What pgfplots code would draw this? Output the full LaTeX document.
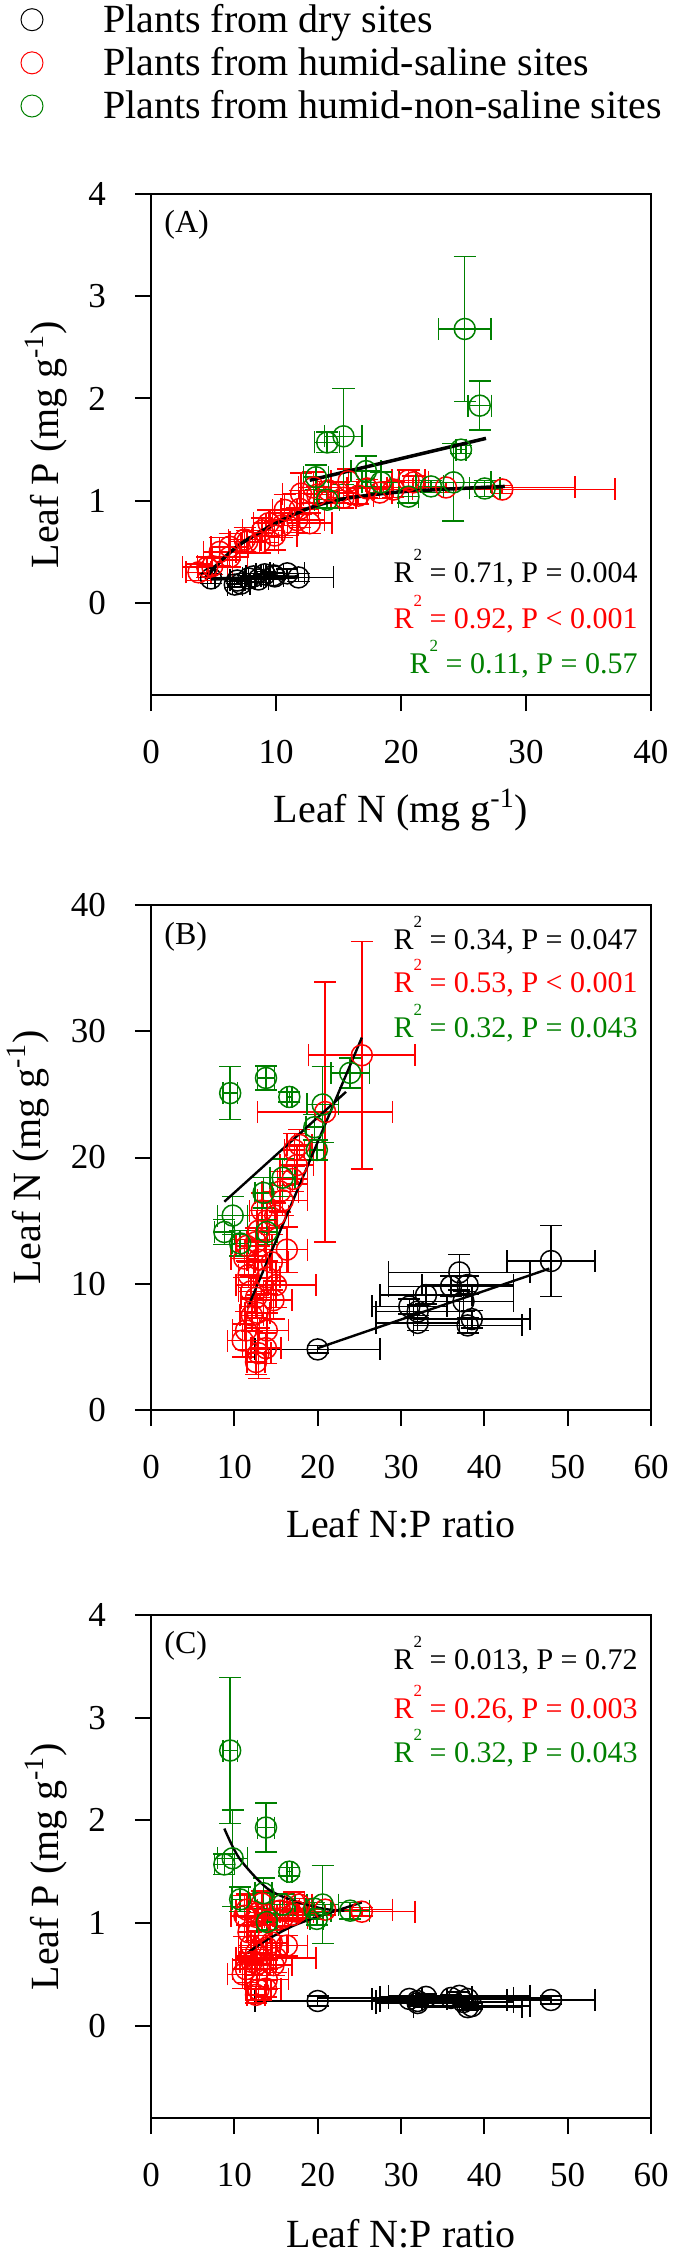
\documentclass[border=0pt]{standalone}
\usepackage{fontspec}
\setmainfont{Liberation Serif}
\usepackage{pgfplots}
\pgfplotsset{compat=1.18}
\usepackage{pgfplotstable}
\definecolor{sred}{RGB}{255,0,0}
\definecolor{sgreen}{RGB}{0,128,0}

% dry sites
\pgfplotstableread{
N P NP eN eP eNP
4.8 0.24 20.0 0.3 0.05 7.5
8.2 0.26 31.0 0.6 0.03 4.5
7.8 0.24 32.0 0.5 0.03 5.0
6.9 0.22 32.0 0.6 0.03 5.0
9.1 0.28 33.0 0.7 0.03 5.5
9.8 0.27 36.0 0.8 0.03 7.5
10.9 0.29 37.0 1.4 0.04 8.5
8.6 0.23 37.5 0.8 0.03 6.0
9.9 0.26 38.0 0.7 0.03 5.5
7.2 0.19 38.5 0.7 0.03 7.0
6.7 0.18 38.0 0.6 0.03 6.5
11.8 0.25 48.0 2.8 0.04 5.3
}\dry

% humid-saline sites
\pgfplotstableread{
N P NP eN eP eNP
28.1 1.11 25.3 9.0 0.04 6.4
23.6 1.13 20.9 10.3 0.05 8.1
21.0 1.18 17.8 1.2 0.06 1.5
19.4 1.11 17.5 1.5 0.08 2.0
18.3 1.08 17.0 1.0 0.06 1.8
20.6 1.20 17.2 1.3 0.10 1.2
17.3 1.12 15.5 1.6 0.09 2.2
16.6 1.05 15.8 1.2 0.08 3.0
15.4 1.03 14.9 1.0 0.10 1.6
15.8 1.19 13.3 1.4 0.12 1.5
15.0 1.08 13.9 1.5 0.10 1.2
14.2 1.10 12.9 1.2 0.09 1.3
13.3 1.06 12.6 1.1 0.08 1.0
12.7 0.78 16.3 1.8 0.10 2.5
11.9 0.92 12.9 1.5 0.18 1.4
11.7 0.81 14.5 2.2 0.12 2.0
10.7 0.91 11.7 1.0 0.15 1.2
10.5 0.76 13.9 1.3 0.12 1.6
9.9 0.66 15.0 1.8 0.14 4.8
9.4 0.78 12.0 1.2 0.13 1.5
8.9 0.71 12.6 1.6 0.12 1.8
8.7 0.59 14.7 1.5 0.10 2.2
7.7 0.60 12.8 1.4 0.11 1.5
7.5 0.62 12.1 1.3 0.12 1.4
6.3 0.55 11.4 1.5 0.13 1.6
6.3 0.45 13.9 1.4 0.10 2.6
4.9 0.36 13.8 1.2 0.08 1.8
4.5 0.35 12.9 2.0 0.10 1.5
3.8 0.30 12.6 1.0 0.08 1.1
13.0 1.13 11.5 1.2 0.15 1.3
5.5 0.50 11.0 1.3 0.14 1.8
12.0 1.07 11.2 1.5 0.20 1.6
}\saline

% humid-non-saline sites
\pgfplotstableread{
N P NP eN eP eNP
25.1 2.68 9.5 2.1 0.71 0.85
26.3 1.93 13.8 0.95 0.24 1.0
24.8 1.50 16.6 0.4 0.04 0.3
24.2 1.18 20.6 3.0 0.38 1.9
26.7 1.12 23.9 1.2 0.08 2.3
22.4 1.14 19.6 1.0 0.06 1.0
20.6 1.04 19.9 0.8 0.06 0.8
18.4 1.18 15.8 1.5 0.10 1.5
17.2 1.29 13.5 1.2 0.15 1.0
15.4 1.63 9.8 1.5 0.47 1.8
14.1 1.57 8.8 1.0 0.10 1.2
13.2 1.23 10.7 1.0 0.12 1.0
14.1 1.01 13.9 1.0 0.08 1.2
}\nonsaline

\newcommand{\rsq}{R\raisebox{11bp}{\fontsize{8.5bp}{9bp}\selectfont 2}}

\tikzset{
  rtext/.style={anchor=base east, inner sep=0pt, font=\fontsize{15bp}{18bp}\selectfont},
  plabel/.style={anchor=west, inner sep=0pt, font=\fontsize{16bp}{18bp}\selectfont},
}
\pgfplotsset{
  panel/.style={
    scale only axis, width=250bp,
    axis line style={line width=1bp},
    tick pos=left, tick align=outside, major tick length=8bp,
    every tick/.style={black, line width=1bp},
    tick label style={font=\fontsize{17.5bp}{20bp}\selectfont},
    xticklabel style={yshift=-11bp},
    yticklabel style={xshift=-11bp},
    /pgf/number format/assume math mode=true,
    label style={font=\fontsize{20bp}{24bp}\selectfont},
  },
  dots/.style={only marks, mark=o, mark size=5.25bp,
    mark options={line width=0.75bp, solid},
    /pgfplots/error bars/x dir=both, /pgfplots/error bars/x explicit,
    /pgfplots/error bars/y dir=both, /pgfplots/error bars/y explicit,
    /pgfplots/error bars/error bar style={line width=0.75bp},
    /pgfplots/error bars/error mark=-,
    /pgfplots/error bars/error mark options={rotate=90, mark size=5.5bp, line width=0.75bp}},
  fitA/.style={black, line width=1.75bp, no marks},
  fitB/.style={black, line width=1.2bp, no marks},
}

\begin{document}
\begin{tikzpicture}
% ---------------- (A)
\begin{axis}[panel, name=A, at={(75.5bp,-97bp)}, anchor=north west, height=250.5bp,
  xmin=0, xmax=40, ymin=-0.9, ymax=4,
  xtick={0,10,20,30,40}, ytick={0,1,2,3,4},
  xlabel={Leaf N (mg g\textsuperscript{-1})},
  ylabel={Leaf P (mg g\textsuperscript{-1})},
  xlabel style={at={(axis description cs:0.5,-0.2295)}, anchor=center},
  ylabel style={at={(axis description cs:-0.21,0.5)}, anchor=center},
  legend cell align=left,
  legend image code/.code={\draw[#1] plot coordinates {(0bp,0bp)};},
  legend style={at={(axis description cs:-0.26,1.379)}, anchor=north west,
    draw=none, fill=none, inner sep=0pt, outer sep=0pt,
    font=\fontsize{20bp}{24bp}\selectfont, row sep=6bp,
    nodes={inner sep=0pt},
    /tikz/every odd column/.append style={column sep=30bp}},
]
\addlegendimage{only marks, mark=o, black, mark size=5.5bp, mark options={line width=0.5bp}}
\addlegendimage{only marks, mark=o, sred, mark size=5.5bp, mark options={line width=0.5bp}}
\addlegendimage{only marks, mark=o, sgreen, mark size=5.5bp, mark options={line width=0.5bp}}
\legend{Plants from dry sites, Plants from humid-saline sites, Plants from humid-non-saline sites}
\addplot[black, dots] table[x=N, y=P, x error=eN, y error=eP]{\dry};
\addplot[sred, dots] table[x=N, y=P, x error=eN, y error=eP]{\saline};
\addplot[sgreen, dots] table[x=N, y=P, x error=eN, y error=eP]{\nonsaline};
\addplot[fitA] coordinates {(4.8,0.235) (11.8,0.255)};
\addplot[fitA, smooth] coordinates {(4.3,0.24) (5.5,0.40) (7.2,0.58) (10,0.78) (12.7,0.93) (15.5,1.02) (20.3,1.09) (28.3,1.14)};
\addplot[fitA] coordinates {(12.7,1.2) (26.8,1.61)};
\node[plabel] at (rel axis cs:0.026,0.938) {(A)};
\node[rtext, black] at (rel axis cs:0.974,0.2255) {\rsq{} = 0.71, P = 0.004};
\node[rtext, sred] at (rel axis cs:0.974,0.1337) {\rsq{} = 0.92, P < 0.001};
\node[rtext, sgreen] at (rel axis cs:0.974,0.0439) {\rsq{} = 0.11, P = 0.57};
\end{axis}
% ---------------- (B)
\begin{axis}[panel, name=B, at={(75.5bp,-452.5bp)}, anchor=north west, height=252.5bp,
  xmin=0, xmax=60, ymin=0, ymax=40,
  xtick={0,10,...,60}, ytick={0,10,...,40},
  xlabel={Leaf N:P ratio},
  ylabel={Leaf N (mg g\textsuperscript{-1})},
  xlabel style={at={(axis description cs:0.5,-0.2257)}, anchor=center},
  ylabel style={at={(axis description cs:-0.246,0.5)}, anchor=center},
]
\addplot[black, dots] table[x=NP, y=N, x error=eNP, y error=eN]{\dry};
\addplot[sred, dots] table[x=NP, y=N, x error=eNP, y error=eN]{\saline};
\addplot[sgreen, dots] table[x=NP, y=N, x error=eNP, y error=eN]{\nonsaline};
\addplot[fitB] coordinates {(20.0,4.9) (47.8,11.2)};
\addplot[fitB] coordinates {(11.6,8.1) (25.3,29.5)};
\addplot[fitB] coordinates {(8.8,16.5) (23.4,25.2)};
\node[plabel] at (rel axis cs:0.026,0.937) {(B)};
\node[rtext, black] at (rel axis cs:0.974,0.911) {\rsq{} = 0.34, P = 0.047};
\node[rtext, sred] at (rel axis cs:0.974,0.827) {\rsq{} = 0.53, P < 0.001};
\node[rtext, sgreen] at (rel axis cs:0.974,0.738) {\rsq{} = 0.32, P = 0.043};
\end{axis}
% ---------------- (C)
\begin{axis}[panel, name=C, at={(75.5bp,-807.5bp)}, anchor=north west, height=251.5bp,
  xmin=0, xmax=60, ymin=-0.9, ymax=4,
  xtick={0,10,...,60}, ytick={0,1,2,3,4},
  xlabel={Leaf N:P ratio},
  ylabel={Leaf P (mg g\textsuperscript{-1})},
  xlabel style={at={(axis description cs:0.5,-0.2306)}, anchor=center},
  ylabel style={at={(axis description cs:-0.21,0.5)}, anchor=center},
]
\addplot[black, dots] table[x=NP, y=P, x error=eNP, y error=eP]{\dry};
\addplot[sred, dots] table[x=NP, y=P, x error=eNP, y error=eP]{\saline};
\addplot[sgreen, dots] table[x=NP, y=P, x error=eNP, y error=eP]{\nonsaline};
\addplot[fitB] coordinates {(20,0.27) (48,0.27)};
\addplot[fitB, smooth] coordinates {(11.6,0.71) (14,0.84) (17,0.97) (20,1.06) (23,1.14) (25.3,1.20)};
\addplot[fitB, smooth] coordinates {(8.8,1.92) (10.6,1.63) (13.9,1.34) (17,1.22) (20.6,1.14) (23.2,1.12)};
\node[plabel] at (rel axis cs:0.026,0.938) {(C)};
\node[rtext, black] at (rel axis cs:0.974,0.891) {\rsq{} = 0.013, P = 0.72};
\node[rtext, sred] at (rel axis cs:0.974,0.794) {\rsq{} = 0.26, P = 0.003};
\node[rtext, sgreen] at (rel axis cs:0.974,0.706) {\rsq{} = 0.32, P = 0.043};
\end{axis}
\pgfresetboundingbox
\path[use as bounding box] (0,0) rectangle (337.5bp,-1125bp);
\end{tikzpicture}
\end{document}
